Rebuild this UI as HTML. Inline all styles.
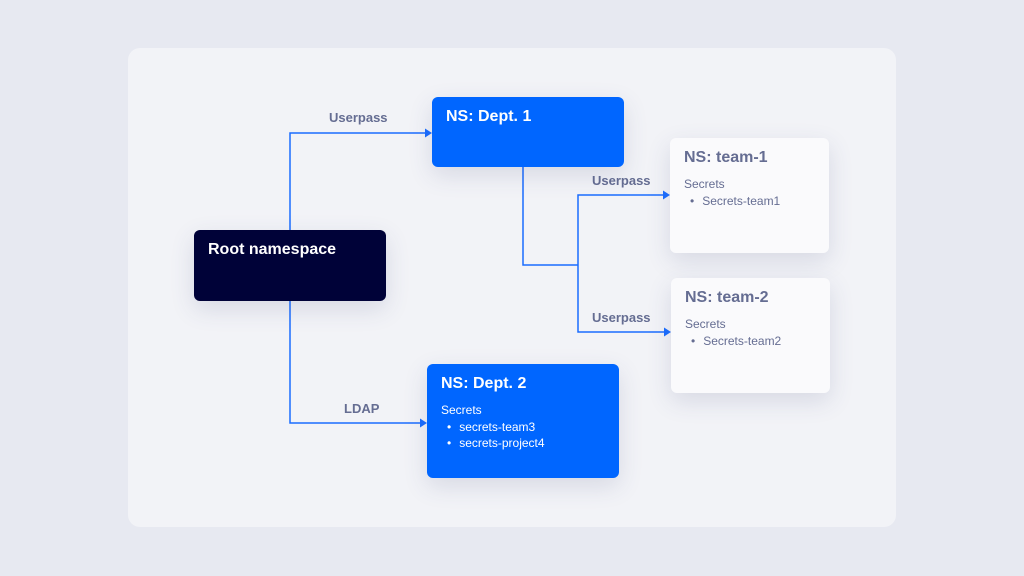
<!DOCTYPE html>
<html><head><style>
body{margin:0;width:1024px;height:576px;background:#e7e9f1;font-family:"Liberation Sans",sans-serif;position:relative;overflow:hidden}
.card{position:absolute;left:128px;top:48px;width:768px;height:479px;background:#f2f3f7;border-radius:12px}
.n{position:absolute;border-radius:6px;box-sizing:border-box;box-shadow:0 8px 24px rgba(60,70,120,0.15)}
.t{font-weight:bold;font-size:16px}
.s{font-size:12px;margin-top:10px}
ul{margin:2px 0 0;padding-left:6px;font-size:12px;list-style:none}
li:before{content:"•";margin-right:8px}
li{line-height:16px}
.lbl{position:absolute;font-size:13px;font-weight:bold;color:#656d92}
</style></head><body>
<div class="card"></div>
<svg style="position:absolute;left:0;top:0" width="1024" height="576">
<g fill="none" stroke="#1a6dff" stroke-width="1.5">
<path d="M290 230V133H426"/>
<path d="M290 301V423H421"/>
<path d="M523 167V265H578"/>
<path d="M664 195H578V332H665"/>
</g>
<g fill="#1a6dff">
<path d="M432 133l-7-4.5v9z"/>
<path d="M427 423l-7-4.5v9z"/>
<path d="M670 195l-7-4.5v9z"/>
<path d="M671 332l-7-4.5v9z"/>
</g>
</svg>
<div class="lbl" style="left:329px;top:110px">Userpass</div>
<div class="lbl" style="left:592px;top:173px">Userpass</div>
<div class="lbl" style="left:592px;top:310px">Userpass</div>
<div class="lbl" style="left:344px;top:401px">LDAP</div>
<div class="n" style="left:432px;top:97px;width:192px;height:70px;background:#0066ff;color:#fff;padding:11px 14px"><div class="t">NS: Dept. 1</div></div>
<div class="n" style="left:194px;top:230px;width:192px;height:71px;background:#000238;color:#fff;padding:11px 14px"><div class="t">Root namespace</div></div>
<div class="n" style="left:670px;top:138px;width:159px;height:115px;background:#fafafc;color:#656d92;padding:11px 14px"><div class="t">NS: team-1</div><div class="s">Secrets</div><ul><li>Secrets-team1</li></ul></div>
<div class="n" style="left:671px;top:278px;width:159px;height:115px;background:#fafafc;color:#656d92;padding:11px 14px"><div class="t">NS: team-2</div><div class="s">Secrets</div><ul><li>Secrets-team2</li></ul></div>
<div class="n" style="left:427px;top:364px;width:192px;height:114px;background:#0066ff;color:#fff;padding:11px 14px"><div class="t">NS: Dept. 2</div><div class="s">Secrets</div><ul><li>secrets-team3</li><li>secrets-project4</li></ul></div>
</body></html>
